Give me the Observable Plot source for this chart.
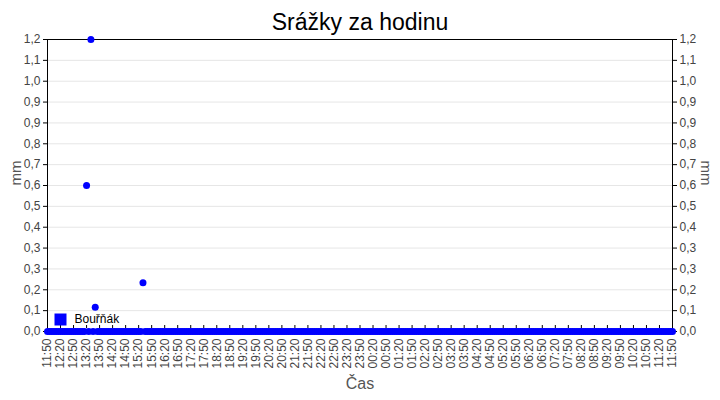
<!DOCTYPE html>
<html>
<head>
<meta charset="utf-8">
<script src="https://cdn.jsdelivr.net/npm/d3@7"></script>
<script src="https://cdn.jsdelivr.net/npm/@observablehq/plot@0.6"></script>
<style>
  html, body { margin: 0; padding: 0; background: #fff; }
</style>
</head>
<body>
<div id="chart"></div>
<script>
const title = "Srážky za hodinu";
const seriesName = "Bouřňák";
const yLabel = "mm";
const xLabel = "Čas";

// 5-minute readings from 11:50 to 11:50 the next day (289 values)
const values = [
  0, 0, 0, 0, 0, 0, 0, 0, 0, 0, 0, 0,
  0, 0, 0, 0, 0, 0, 0.6, 0, 1.2, 0, 0.1, 0,
  0, 0, 0, 0, 0, 0, 0, 0, 0, 0, 0, 0,
  0, 0, 0, 0, 0, 0, 0, 0, 0.2, 0, 0, 0,
  0, 0, 0, 0, 0, 0, 0, 0, 0, 0, 0, 0,
  0, 0, 0, 0, 0, 0, 0, 0, 0, 0, 0, 0,
  0, 0, 0, 0, 0, 0, 0, 0, 0, 0, 0, 0,
  0, 0, 0, 0, 0, 0, 0, 0, 0, 0, 0, 0,
  0, 0, 0, 0, 0, 0, 0, 0, 0, 0, 0, 0,
  0, 0, 0, 0, 0, 0, 0, 0, 0, 0, 0, 0,
  0, 0, 0, 0, 0, 0, 0, 0, 0, 0, 0, 0,
  0, 0, 0, 0, 0, 0, 0, 0, 0, 0, 0, 0,
  0, 0, 0, 0, 0, 0, 0, 0, 0, 0, 0, 0,
  0, 0, 0, 0, 0, 0, 0, 0, 0, 0, 0, 0,
  0, 0, 0, 0, 0, 0, 0, 0, 0, 0, 0, 0,
  0, 0, 0, 0, 0, 0, 0, 0, 0, 0, 0, 0,
  0, 0, 0, 0, 0, 0, 0, 0, 0, 0, 0, 0,
  0, 0, 0, 0, 0, 0, 0, 0, 0, 0, 0, 0,
  0, 0, 0, 0, 0, 0, 0, 0, 0, 0, 0, 0,
  0, 0, 0, 0, 0, 0, 0, 0, 0, 0, 0, 0,
  0, 0, 0, 0, 0, 0, 0, 0, 0, 0, 0, 0,
  0, 0, 0, 0, 0, 0, 0, 0, 0, 0, 0, 0,
  0, 0, 0, 0, 0, 0, 0, 0, 0, 0, 0, 0,
  0, 0, 0, 0, 0, 0, 0, 0, 0, 0, 0, 0,
  0
];

const startTime = new Date(2024, 5, 1, 11, 50);
const stepMinutes = 5;
const tickStepMinutes = 30;

const yTickLabels = ["0,0","0,1","0,2","0,3","0,3","0,4","0,5","0,6","0,7","0,8","0,9","0,9","1,0","1,1","1,2"];
const yMax = 1.2;

const times = values.map((_, i) => new Date(startTime.getTime() + i * stepMinutes * 60000));
const endTime = times[times.length - 1];
const data = values.map((v, i) => ({time: times[i], value: v}));

const xTicks = d3.range(0, (endTime - startTime) / 60000 + 1, tickStepMinutes)
  .map(m => new Date(startTime.getTime() + m * 60000));
const yTicks = yTickLabels.map((_, i) => yMax * i / (yTickLabels.length - 1));
const yFmt = d => yTickLabels[Math.round(d * (yTickLabels.length - 1) / yMax)];
const xFmt = d3.timeFormat("%H:%M");

const chart = Plot.plot({
  width: 720,
  height: 400,
  marginLeft: 47,
  marginRight: 48,
  marginTop: 39,
  marginBottom: 69,
  style: {fontFamily: "'Liberation Sans', Arial, sans-serif", fontSize: "12px", color: "#444", background: "#fff"},
  x: {type: "time", domain: [startTime, endTime]},
  y: {domain: [0, yMax]},
  marks: [
    Plot.gridY(yTicks, {stroke: "#e6e6e6", strokeOpacity: 1}),
    Plot.frame({stroke: "#000"}),
    Plot.axisY(yTicks, {anchor: "left", tickFormat: yFmt, tickSize: 4, tickPadding: 3, label: null, stroke: "#000"}),
    Plot.axisY(yTicks, {anchor: "right", tickFormat: yFmt, tickSize: 4, tickPadding: 3, label: null, stroke: "#000"}),
    Plot.axisX(xTicks, {tickFormat: xFmt, tickSize: 0, tickPadding: 7, tickRotate: -90, label: null}),
    Plot.dot(data, {x: "time", y: "value", r: 3.5, fill: "#0000ff", stroke: null}),
    Plot.ruleX(xTicks, {stroke: "#000", insetTop: 286, insetBottom: 3}),
    Plot.dot([seriesName], {frameAnchor: "bottom-left", dx: 13, dy: -12, symbol: "square", r: 6.77, fill: "#0000ff"}),
    Plot.text([seriesName], {frameAnchor: "bottom-left", dx: 27, dy: -12, text: d => d, textAnchor: "start", lineAnchor: "middle", fontSize: 12, fill: "#000"}),
    Plot.text([title], {frameAnchor: "top", dy: -17, text: d => d, lineAnchor: "middle", fontSize: 23, fill: "#000"}),
    Plot.text([xLabel], {frameAnchor: "bottom", dy: 52, text: d => d, lineAnchor: "middle", fontSize: 16, fill: "#555"}),
    Plot.text([yLabel], {frameAnchor: "left", dx: -31, rotate: -90, text: d => d, lineAnchor: "middle", fontSize: 15, fill: "#555"}),
    Plot.text([yLabel], {frameAnchor: "right", dx: 33, rotate: 90, text: d => d, lineAnchor: "middle", fontSize: 15, fill: "#555"})
  ]
});
document.getElementById("chart").appendChild(chart);
</script>
</body>
</html>
